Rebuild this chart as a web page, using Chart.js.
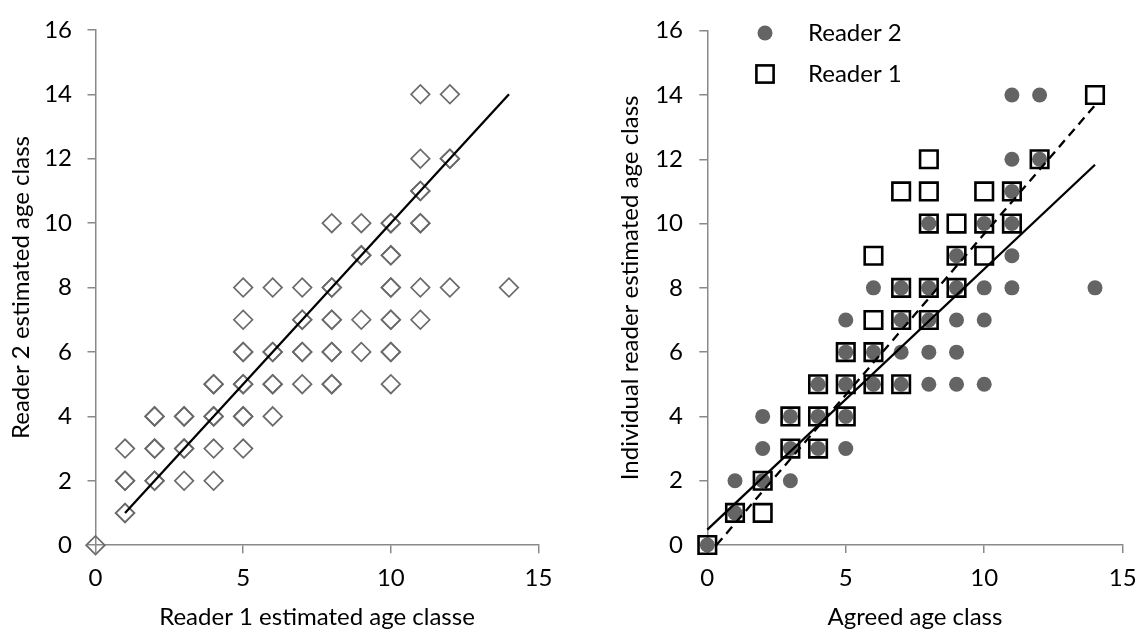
<!DOCTYPE html>
<html><head><meta charset="utf-8">
<script src="https://cdn.jsdelivr.net/npm/chart.js@4.4.1/dist/chart.umd.min.js"></script>
<style>
html,body{margin:0;padding:0;background:#fff;}
#wrap{position:relative;width:1147px;height:639px;overflow:hidden;}
.box{position:absolute;top:0;height:639px;}
#b1{left:0;width:573px}
#b2{left:573px;width:574px}
</style></head><body>
<div id="wrap">
<div class="box" id="b1"><canvas id="c1" width="573" height="639"></canvas></div>
<div class="box" id="b2"><canvas id="c2" width="574" height="639"></canvas></div>
</div>
<script>
// ---------- data: left panel (Reader 1 vs Reader 2, repeated pairs kept) ----------
const leftReader1 = [0, 1,1, 1,1, 1, 2,2, 2,2, 2,2, 3, 3,3, 3,3, 4, 4, 4,4, 4,4, 5, 5,5, 5,5, 5,5, 5, 5, 6, 6,6, 6,6, 6, 7, 7,7, 7,7, 7, 8,8, 8,8, 8,8, 8,8, 8, 9, 9, 9,9, 9, 10, 10,10, 10,10, 10,10, 10,10, 10,10, 11, 11, 11,11, 11,11, 11, 11, 12, 12,12, 12, 14];
const leftReader2 = [0, 1,1, 2,2, 3, 2,2, 3,3, 4,4, 2, 3,3, 4,4, 2, 3, 4,4, 5,5, 3, 4,4, 5,5, 6,6, 7, 8, 4, 5,5, 6,6, 8, 5, 6,6, 7,7, 8, 5,5, 6,6, 7,7, 8,8, 10, 6, 7, 9,9, 10, 5, 6,6, 7,7, 8,8, 9,9, 10,10, 7, 8, 10,10, 11,11, 12, 14, 8, 12,12, 14, 8];
const oneToOneX = [1, 14];
const oneToOneY = [1, 14];

// ---------- data: right panel (agreed age class vs individual readers) ----------
const agreedR2  = [0,1,1,2,2,2,3,3,3,4,4,4,5,5,5,5,5,6,6,6,7,7,7,7,8,8,8,8,8,9,9,9,9,9,10,10,10,10,11,11,11,11,11,11,12,12,14];
const reader2Est= [0,1,2,2,3,4,2,3,4,3,4,5,3,4,5,6,7,5,6,8,5,6,7,8,5,6,7,8,10,5,6,7,8,9,5,7,8,10,8,9,10,11,12,14,12,14,8];
const agreedR1  = [0,1,2,2,3,3,4,4,4,5,5,5,6,6,6,6,7,7,7,7,8,8,8,8,8,9,9,9,10,10,10,11,11,12,14];
const reader1Est= [0,1,1,2,3,4,3,4,5,4,5,6,5,6,7,9,5,7,8,11,7,8,10,11,12,8,9,10,9,10,11,10,11,12,14];
const trendR2X = [0, 14];
const trendR2Y = [0.48, 11.83];
const trendR1X = [0.33, 14];
const trendR1Y = [0, 13.68];

// ---------- axes / text ----------
const xMin = 0, xMax = 15, xStep = 5;
const yMin = 0, yMax = 16, yStep = 2;
const leftXTitle = 'Reader 1 estimated age classe';
const leftYTitle = 'Reader 2 estimated age class';
const rightXTitle = 'Agreed age class';
const rightYTitle = 'Individual reader estimated age class';
const legendNames = ['Reader 2', 'Reader 1'];

// ---------- styles ----------
const FONT = 'Lato, "Open Sans", sans-serif';
const FS = 24;
const AXIS = '#898989';
const GRAY = '#646464';
const DIAMOND = '#6a6a6a';

const pts = (xs, ys) => xs.map((x, i) => ({x: x, y: ys[i]}));

function makeScales(xTitle, yTitle, xH, yW, yTitlePad, yTickPad) {
  const f = {family: FONT, size: FS};
  return {
    x: {
      type: 'linear', min: xMin, max: xMax,
      ticks: {stepSize: xStep, color: '#000', font: f, padding: 10.4, maxRotation: 0},
      grid: {drawOnChartArea: false, drawTicks: true, tickLength: 8, color: AXIS, lineWidth: 1.5},
      border: {display: true, color: AXIS, width: 1.5},
      title: {display: true, text: xTitle, color: '#000', font: f, padding: {top: 0, bottom: 7.6}},
      afterFit: s => { s.height = xH; }
    },
    y: {
      type: 'linear', min: yMin, max: yMax,
      ticks: {stepSize: yStep, color: '#000', font: f, padding: yTickPad},
      grid: {drawOnChartArea: false, drawTicks: true, tickLength: 8, color: AXIS, lineWidth: 1.5},
      border: {display: true, color: AXIS, width: 1.5},
      title: {display: true, text: yTitle, color: '#000', font: f, padding: {top: yTitlePad, bottom: 0}},
      afterFit: s => { s.width = yW; }
    }
  };
}

// ---------- left chart ----------
new Chart(document.getElementById('c1'), {
  type: 'scatter',
  data: {
    datasets: [
      {label: '1:1', data: pts(oneToOneX, oneToOneY), showLine: true, borderColor: '#000', borderWidth: 2.3,
       pointRadius: 0, fill: false, clip: false},
      {label: 'Reader 1 vs Reader 2', data: pts(leftReader1, leftReader2), pointStyle: 'rectRot', pointRadius: 9.3,
       borderColor: DIAMOND, borderWidth: 1.7, backgroundColor: 'rgba(0,0,0,0)', clip: false}
    ]
  },
  options: {
    responsive: false, animation: false, events: [],
    layout: {padding: {top: 19.6, right: 34.5, left: 0, bottom: 0}},
    scales: makeScales(leftXTitle, leftYTitle, 93.8, 95.5, 6.6, 15.5),
    plugins: {legend: {display: false}, tooltip: {enabled: false}}
  }
});

// ---------- right chart ----------
function legendMarker(kind) {
  const c = document.createElement('canvas');
  c.width = 44; c.height = 24;
  const g = c.getContext('2d');
  if (kind === 'circle') {
    g.fillStyle = GRAY; g.beginPath(); g.arc(13, 12, 7.5, 0, Math.PI * 2); g.fill();
  } else {
    g.strokeStyle = '#000'; g.lineWidth = 2.6; g.strokeRect(13 - 8.6, 12 - 8.6, 17.2, 17.2);
  }
  return c;
}
const markers = {'Reader 2': legendMarker('circle'), 'Reader 1': legendMarker('square')};

const legendPlace = {
  id: 'legendPlace',
  afterLayout(chart) {
    const lg = chart.legend;
    if (!lg) return;
    const w = lg.width;
    lg.left = 162; lg.top = 4;
    lg.right = lg.left + w + 20;
    lg.bottom = chart.chartArea.bottom;
  }
};

new Chart(document.getElementById('c2'), {
  type: 'scatter',
  data: {
    datasets: [
      {label: 'Reader 1 trend', data: pts(trendR1X, trendR1Y), showLine: true, borderColor: '#000', borderWidth: 2.3,
       borderDash: [9, 6], pointRadius: 0, fill: false, clip: false},
      {label: 'Reader 2 trend', data: pts(trendR2X, trendR2Y), showLine: true, borderColor: '#000', borderWidth: 2.3,
       pointRadius: 0, fill: false, clip: false},
      {label: 'Reader 1', data: pts(agreedR1, reader1Est), pointStyle: 'rect', pointRadius: 12.4,
       borderColor: '#000', borderWidth: 2.6, backgroundColor: 'rgba(0,0,0,0)', clip: false},
      {label: 'Reader 2', data: pts(agreedR2, reader2Est), pointStyle: 'circle', pointRadius: 7.5,
       borderWidth: 0, backgroundColor: GRAY, borderColor: GRAY, clip: false}
    ]
  },
  options: {
    responsive: false, animation: false, events: [],
    layout: {padding: {top: 26.2, right: 19.5, left: 0, bottom: 0}},
    scales: makeScales(rightXTitle, rightYTitle, 94, 134.3, 42.6, 16.3),
    plugins: {
      tooltip: {enabled: false},
      legend: {
        display: true, position: 'chartArea', align: 'start',
        labels: {
          usePointStyle: true, pointStyleWidth: 44, padding: 17, color: '#000',
          font: {family: FONT, size: FS},
          generateLabels: chart => {
            const base = Chart.defaults.plugins.legend.labels.generateLabels(chart);
            return legendNames.map(n => {
              const it = base.find(b => b.text === n);
              it.pointStyle = markers[n];
              return it;
            });
          }
        }
      }
    }
  },
  plugins: [legendPlace]
});
</script>
</body></html>
